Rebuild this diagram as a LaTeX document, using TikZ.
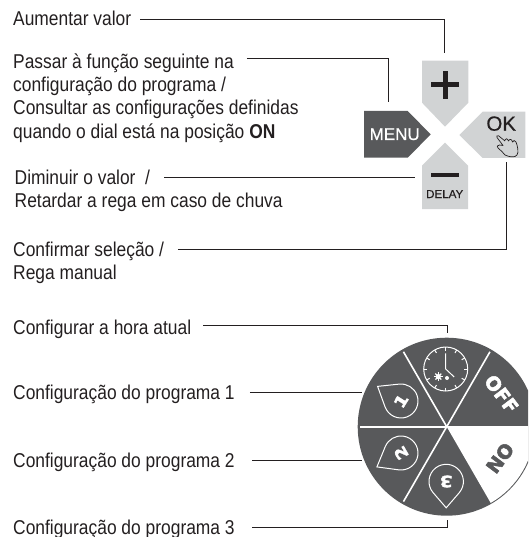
\documentclass[tikz,border=0pt]{standalone}
\usepackage{fontspec}
\setmainfont[FakeStretch=0.87]{Liberation Sans}
\newfontfamily\btnfont{Liberation Sans}
\newfontfamily\dialfont[BoldFeatures={FakeBold=2.5}]{DejaVu Sans}
\newfontfamily\digitfont[BoldFeatures={FakeBold=2.5,FakeStretch=1.2}]{DejaVu Sans}
\definecolor{ink}{HTML}{231F20}
\definecolor{dial}{HTML}{58595B}
\definecolor{key}{HTML}{D1D3D4}
\newcommand{\mydrop}[7]{%
  \begin{scope}[shift={(#1,#2)},x=1pt,y=1pt,rotate=#3]
    \pgfmathsetmacro{\tang}{acos(#5/#6)}
    \draw[dropline] (#6,0) -- (\tang:#5) arc[start angle=\tang,end angle=360-\tang,radius=#5] -- cycle;
    \node[digitlabel,rotate=#3-90] (#7) at (0,0) {#4};
  \end{scope}}
\tikzset{
  lbl/.style={anchor=base west,inner sep=0pt,font=\fontsize{20}{24}\selectfont,text=ink},
  conn/.style={draw=ink,line width=1pt},
  dropline/.style={draw=white,line width=1pt,line join=miter},
  digitlabel/.style={inner sep=0pt,text=white,font=\fontsize{15.5}{16}\digitfont\bfseries},
  dialtext/.style={inner sep=0pt,font=\fontsize{19}{20}\dialfont\bfseries},
  spoke/.style={draw=white,line width=1.6pt},
  clockline/.style={draw=white,line width=1pt},
  keytext/.style={inner sep=0pt,anchor=base,text=ink}
}
\begin{document}
\begin{tikzpicture}[x=1pt,y=-1pt]
\useasboundingbox (0,0) rectangle (528,537);
\clip (0,0) rectangle (528,537);
% labels
\node[lbl] (a1) at (13,26) {Aumentar valor};
\node[lbl] (b1) at (13,68.3) {Passar à função seguinte na};
\node[lbl] (b2) at (13,91.7) {configuração do programa /};
\node[lbl] (b3) at (13,115) {Consultar as configurações definidas};
\node[lbl] (b4) at (13,138.3) {quando o dial está na posição \textbf{ON}};
\node[lbl] (c1) at (14.5,184.3) {Diminuir o valor\ \ /};
\node[lbl] (c2) at (14.5,207.7) {Retardar a rega em caso de chuva};
\node[lbl] (d1) at (13,256) {Confirmar seleção /};
\node[lbl] (d2) at (13,279.3) {Rega manual};
\node[lbl] (e1) at (13,334) {Configurar a hora atual};
\node[lbl] (e2) at (13,399.3) {Configuração do programa 1};
\node[lbl] (e3) at (13,467.7) {Configuração do programa 2};
\node[lbl] (e4) at (13,534) {Configuração do programa 3};
% keys
\fill[key] (422,60.7) -- (468.3,60.7) -- (468.3,102.7) -- (445,126.7) -- (422,102.7) -- cycle;
\fill[dial] (364,111) -- (407.7,111) -- (430.7,134.4) -- (407.7,157.7) -- (364,157.7) -- cycle;
\fill[key] (525.3,111.7) -- (482.7,111.7) -- (459.3,135) -- (482.7,158) -- (525.3,158) -- cycle;
\fill[key] (422,209) -- (468,209) -- (468,165.7) -- (445,142.7) -- (422,165.7) -- cycle;
\fill[ink] (430.7,82.2) rectangle (459,87.2);
\fill[ink] (442.5,70.7) rectangle (447.5,99);
\fill[ink] (430.7,172.8) rectangle (459,177.2);
\node[keytext,text=white,font=\fontsize{17}{20}\btnfont\addfontfeature{FakeBold=0.6}] (menu) at (394.7,140) {MENU};
\node[keytext,font=\fontsize{20.5}{24}\btnfont\addfontfeature{FakeBold=0.6}] (ok) at (501.2,130.7) {OK};
\node[keytext,font=\fontsize{11.6}{14}\btnfont\addfontfeature{FakeBold=0.4}] (delay) at (444.7,198) {DELAY};
% hand
\draw[ink,line width=0.7pt,line join=round] (505,141) -- (498.5,135.8) .. controls (497,135) and (496,136.5) .. (497,137.5) -- (503,145.5) -- (499.5,145) .. controls (497,145) and (496.5,147) .. (498,148) .. controls (501,150) and (503,153) .. (505,155) .. controls (509,157) and (515,158) .. (517,155) .. controls (519,152) and (517.5,146) .. (516,142) .. controls (515,140) and (513,140) .. (512.5,142) .. controls (512,139) and (509.5,138.5) .. (508.5,141) .. controls (507.5,138) and (505,138) .. (504.5,140.5);
% dial
\coordinate (dc) at (446.7,426.7);
\begin{scope}[shift={(dc)},x=1pt,y=1pt]
  \fill[dial] (0,0) circle[radius=89];
  \fill[white] (0,0) -- (0:88) arc[start angle=0,end angle=-60,radius=88] -- cycle;
  \foreach \ang in {60,120,180,240} \draw[spoke] (0,0) -- (\ang:86.5);
  \draw[white,line width=1.2pt] (0,0) -- (0:89);
\end{scope}
\node[dialtext,text=white,rotate=-53] (off) at (501.5,394) {OFF};
\node[dialtext,text=dial,rotate=-127] (on) at (500,458) {ON};
\mydrop{401}{401}{148}{1}{17}{27.6}{n1}
\mydrop{401}{453}{210}{2}{17}{27.8}{n2}
\mydrop{446.2}{481.5}{-90}{3}{17.2}{26.3}{n3}
% clock
\begin{scope}[shift={(445.7,369)},x=1pt,y=1pt]
  \draw[clockline] (0,0) circle[radius=22];
  \foreach \ang in {0,30,...,330} \draw[clockline] (\ang:18.5) -- (\ang:22);
  \draw[clockline,line join=miter] (0,15.7) -- (0,0) -- (8.5,-8);
  \foreach \ang in {0,45,...,315} \draw[white,line width=1.2pt] (-7.4,-7.6) ++(\ang:4.2) -- (-7.4,-7.6);
  \fill[white] (-7.4,-7.6) circle[radius=2.6];
  \fill[white] (1.3,-9) circle[radius=2];
\end{scope}
% connector ends
\coordinate (plusEnd) at (444.3,52.7);
\coordinate (menuEnd) at (388.3,101.7);
\coordinate (delayEnd) at (415.3,178);
\coordinate (okEnd) at (506.7,162.3);
\coordinate (clockEnd) at (447.3,333.3);
\coordinate (oneEnd) at (361.7,392);
\coordinate (twoEnd) at (361.7,460.7);
\coordinate (threeEnd) at (447.3,520);
% connectors
\draw[conn] ([shift={(9,-6.3)}]a1.base east) -| (plusEnd);
\draw[conn] ([shift={(13,-9.3)}]b1.base east) -| (menuEnd);
\draw[conn] ([shift={(14,-6.3)}]c1.base east) -- (delayEnd);
\draw[conn] ([shift={(13.6,-6.3)}]d1.base east) -| (okEnd);
\draw[conn] ([shift={(12,-9)}]e1.base east) -| (clockEnd);
\draw[conn] ([shift={(15,-7.3)}]e2.base east) -- (oneEnd);
\draw[conn] ([shift={(17.5,-7)}]e3.base east) -- (twoEnd);
\draw[conn] ([shift={(17.5,-6.7)}]e4.base east) -| (threeEnd);
\end{tikzpicture}
\end{document}
